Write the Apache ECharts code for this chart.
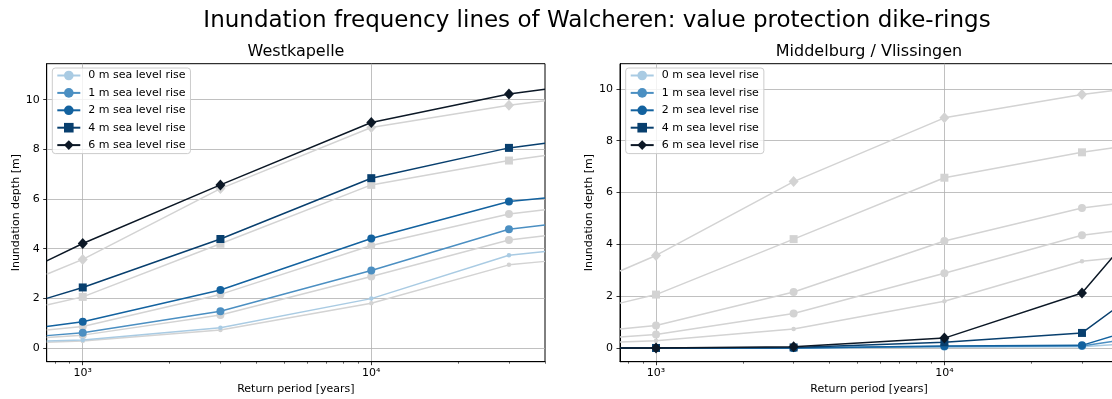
<!DOCTYPE html>
<html><head><meta charset="utf-8">
<script src="https://cdn.jsdelivr.net/npm/echarts@6/dist/echarts.min.js"></script>
<style>html,body{margin:0;padding:0;background:#fff}#c{width:1112px;height:399px}</style>
</head><body><div id="c"></div>
<script>
// ---- data ----
const returnPeriods = [750, 1000, 3000, 10000, 30000, 40000]; // first/last = axis edges
const seriesNames = ['0 m sea level rise', '1 m sea level rise', '2 m sea level rise', '4 m sea level rise', '6 m sea level rise'];

// grey reference lines (drawn in both panels)
const ref0 = [0.23, 0.28, 0.73, 1.80, 3.35, 3.49];
const ref1 = [0.42, 0.52, 1.33, 2.88, 4.35, 4.52];
const ref2 = [0.73, 0.87, 2.16, 4.13, 5.40, 5.57];
const ref4 = [1.73, 2.06, 4.20, 6.57, 7.55, 7.75];
const ref6 = [2.97, 3.57, 6.42, 8.88, 9.78, 9.96];

// Westkapelle
const west0 = [0.28, 0.32, 0.82, 1.99, 3.74, 3.89];
const west1 = [0.50, 0.62, 1.48, 3.12, 4.78, 4.95];
const west2 = [0.87, 1.06, 2.34, 4.41, 5.90, 6.04];
const west4 = [2.00, 2.44, 4.39, 6.84, 8.06, 8.25];
const west6 = [3.51, 4.21, 6.57, 9.08, 10.23, 10.42];

// Middelburg / Vlissingen
const mid0 = [0, 0, 0, 0.04, 0.05, 0.14];
const mid1 = [0, 0, 0, 0.06, 0.08, 0.28];
const mid2 = [0, 0, 0, 0.08, 0.10, 0.52];
const mid4 = [0, 0, 0.02, 0.22, 0.58, 1.60];
const mid6 = [0, 0, 0.05, 0.38, 2.12, 3.75];

const yTicks = [0, 2, 4, 6, 8, 10];
const xMajorTicks = [1000, 10000];
const xTickLabels = ['10³', '10⁴'];
const xMinorTicks = [800, 900, 2000, 3000, 4000, 5000, 6000, 7000, 8000, 9000, 20000, 30000, 40000];

// ---- styles ----
const FONT = 'DejaVu Sans';
const colors = ['#a9cbe3', '#4b8fc2', '#13629f', '#083f6e', '#0c1826'];
const symbols = ['circle', 'circle', 'circle', 'rect', 'diamond'];
const symbolSizes = [4.5, 8, 8, 8, [10, 11]];
const GREY = '#d3d3d3';

function toData(vals) {
  return vals.map((v, i) => {
    const pt = [returnPeriods[i], v];
    if (i === 0 || i === vals.length - 1) return { value: pt, symbol: 'none' };
    return pt;
  });
}

function buildSeries(gridIdx, colored) {
  const refs = [ref0, ref1, ref2, ref4, ref6];
  const out = [];
  refs.forEach((vals, k) => {
    out.push({
      type: 'line', name: 'ref' + k, xAxisIndex: gridIdx * 2, yAxisIndex: gridIdx,
      data: toData(vals), symbol: symbols[k], symbolSize: symbolSizes[k],
      lineStyle: { color: GREY, width: 1.5 }, itemStyle: { color: GREY },
      z: 2, silent: true, animation: false
    });
  });
  colored.forEach((vals, k) => {
    out.push({
      type: 'line', name: seriesNames[k], xAxisIndex: gridIdx * 2, yAxisIndex: gridIdx,
      data: toData(vals), symbol: symbols[k], symbolSize: symbolSizes[k],
      lineStyle: { color: colors[k], width: 1.5 }, itemStyle: { color: colors[k] },
      z: 3 + k, animation: false
    });
  });
  return out;
}

const grids = [
  { left: 46.7, top: 63.7, width: 498.3, height: 298 },
  { left: 620, top: 63.7, width: 498, height: 298 }
];

function mainX(gi) {
  return {
    type: 'log', gridIndex: gi, min: 750, max: 40000, logBase: 10,
    axisLine: { show: true, onZero: false, lineStyle: { color: '#000', width: 1 } },
    axisTick: { show: true, customValues: xMajorTicks, length: 3.5, lineStyle: { color: '#000', width: 0.8 } },
    axisLabel: {
      customValues: xMajorTicks, fontSize: 11, fontFamily: FONT, color: '#000', margin: 6,
      formatter: v => xTickLabels[xMajorTicks.indexOf(Math.round(v))] ?? ''
    },
    splitLine: { show: true, lineStyle: { color: '#b0b0b0', width: 0.8 } },
    name: 'Return period [years]', nameLocation: 'middle', nameGap: 22,
    nameTextStyle: { fontSize: 11, fontFamily: FONT, color: '#000', verticalAlign: 'top' }
  };
}
function minorX(gi) {
  return {
    type: 'log', gridIndex: gi, min: 750, max: 40000, logBase: 10, position: 'bottom',
    axisLine: { show: false, onZero: false },
    axisTick: { show: true, customValues: xMinorTicks, length: 2, lineStyle: { color: '#000', width: 0.6 } },
    axisLabel: { show: false },
    splitLine: { show: false }
  };
}
function yAx(gi, min, max) {
  return {
    type: 'value', gridIndex: gi, min: min, max: max,
    axisLine: { show: true, onZero: false, lineStyle: { color: '#000', width: 1 } },
    axisTick: { show: true, customValues: yTicks, length: 3.5, lineStyle: { color: '#000', width: 0.8 } },
    axisLabel: { customValues: yTicks, fontSize: 11, fontFamily: FONT, color: '#000', margin: 7 },
    splitLine: { show: true, lineStyle: { color: '#b0b0b0', width: 0.8 } },
    name: 'Inundation depth [m]', nameLocation: 'middle', nameRotate: 90, nameGap: 24,
    nameTextStyle: { fontSize: 11, fontFamily: FONT, color: '#000' }
  };
}
function legendAt(left, top) {
  return {
    left: left, top: top, orient: 'vertical', itemWidth: 23, itemHeight: 12, itemGap: 6.4,
    padding: [2, 5, 3, 4], backgroundColor: 'rgba(255,255,255,0.8)',
    borderColor: '#cccccc', borderWidth: 1, borderRadius: 3,
    textStyle: { fontSize: 11, fontFamily: FONT, color: '#000', padding: [0, 0, 0, 3] },
    data: seriesNames, selectedMode: false
  };
}

const chart = echarts.init(document.getElementById('c'), null, { renderer: 'canvas' });
chart.setOption({
  animation: false,
  backgroundColor: '#fff',
  textStyle: { fontFamily: FONT },
  grid: grids.map(g => Object.assign({ show: true, borderColor: '#000', borderWidth: 1, backgroundColor: 'transparent', outerBoundsMode: 'none', containLabel: false }, g)),
  xAxis: [mainX(0), minorX(0), mainX(1), minorX(1)],
  yAxis: [yAx(0, -0.55, 11.45), yAx(1, -0.53, 10.97)],
  legend: [legendAt(52.3, 68), legendAt(625.7, 68)],
  series: buildSeries(0, [west0, west1, west2, west4, west6]).concat(buildSeries(1, [mid0, mid1, mid2, mid4, mid6])),
  graphic: [
    { type: 'text', x: 597, y: 21, style: { text: 'Inundation frequency lines of Walcheren: value protection dike-rings', font: '23px "DejaVu Sans"', fill: '#000', align: 'center', verticalAlign: 'middle' } },
    { type: 'text', x: 296, y: 52, style: { text: 'Westkapelle', font: '16px "DejaVu Sans"', fill: '#000', align: 'center', verticalAlign: 'middle' } },
    { type: 'text', x: 869, y: 52, style: { text: 'Middelburg / Vlissingen', font: '16px "DejaVu Sans"', fill: '#000', align: 'center', verticalAlign: 'middle' } }
  ]
});
</script>
</body></html>
